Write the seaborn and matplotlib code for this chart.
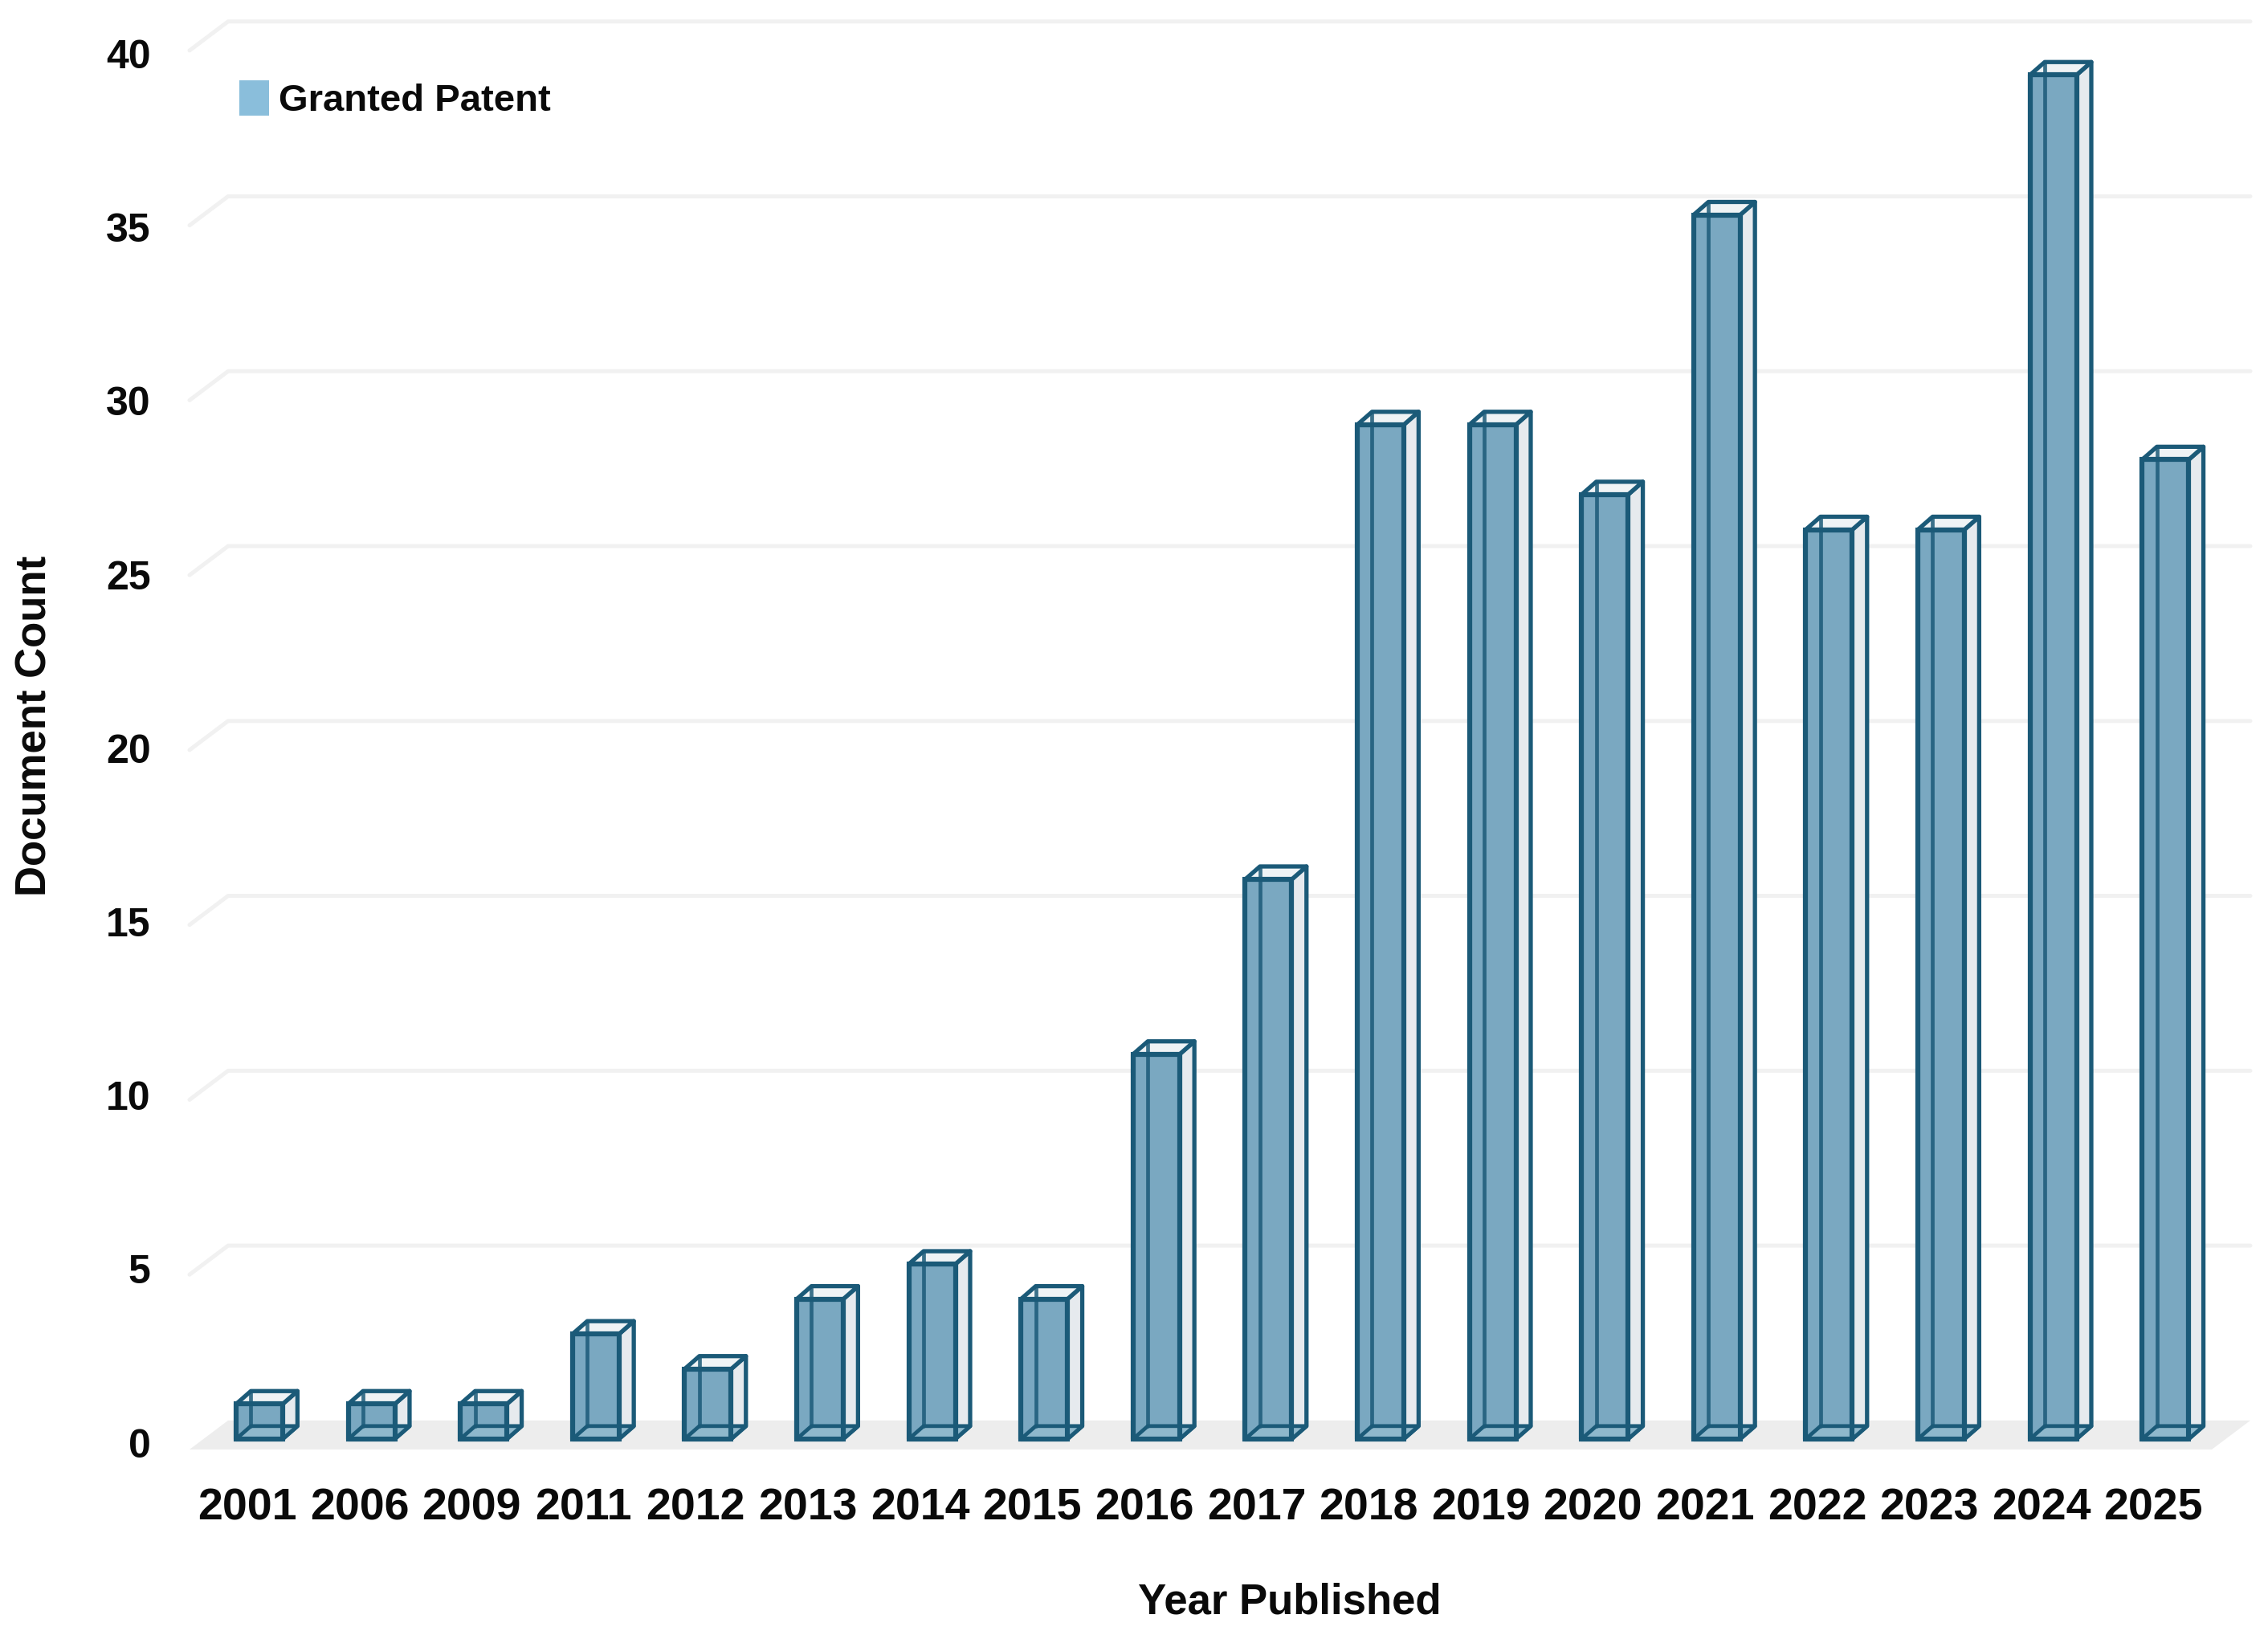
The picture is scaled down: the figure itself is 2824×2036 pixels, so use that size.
#!/usr/bin/env python
# -*- coding: utf-8 -*-
"""Granted patents per publication year, drawn as glass-like 3D columns."""
import matplotlib
matplotlib.use('Agg')
import matplotlib.pyplot as plt
from matplotlib.patches import Patch, Polygon
from matplotlib.transforms import ScaledTranslation
import seaborn as sns

years = ['2001', '2006', '2009', '2011', '2012', '2013', '2014', '2015', '2016',
         '2017', '2018', '2019', '2020', '2021', '2022', '2023', '2024', '2025']
counts = [1, 1, 1, 3, 2, 4, 5, 4, 11, 16, 29, 29, 27, 35, 26, 26, 39, 28]
y_ticks = [0, 5, 10, 15, 20, 25, 30, 35, 40]

FACE = '#7AA8C1'
BOTTOM = '#8FB8CC'
SIDE = '#E6EAEE'
TOP = '#EFF3F5'
EDGE = '#1B5A78'
GRID = '#F1F1F1'
FLOOR = '#EDEDED'
LEGEND = '#8ABEDB'
TEXT = '#0A0A0A'

# depth of the columns and of the floor, in data units
BAR_DX, BAR_DY = 0.132, 0.37
WALL_DY, FRONT_DY = 0.53, -0.30
X_LEFT, X_BACK, X_FRONT_R, X_RIGHT = -0.623, -0.279, 17.414, 17.758

sns.set_style('white')
plt.rcParams['font.family'] = ['Liberation Sans', 'DejaVu Sans']
plt.rcParams['font.weight'] = 'bold'
plt.rcParams['text.color'] = TEXT
plt.rcParams['axes.labelcolor'] = TEXT
plt.rcParams['xtick.color'] = TEXT
plt.rcParams['ytick.color'] = TEXT

fig = plt.figure(figsize=(28.24, 20.36), dpi=100)
ax = fig.add_axes([236 / 2824, 1 - 1805 / 2036, 2566 / 2824, 1780 / 2036])
ax.patch.set_alpha(0)

sns.barplot(x=years, y=counts, color=FACE, saturation=1, width=0.415,
            edgecolor=EDGE, linewidth=4.4, zorder=3, ax=ax)
bars = list(ax.patches)

ax.set_xlim(X_LEFT, X_RIGHT)
ax.set_ylim(FRONT_DY, 40 + WALL_DY + 0.04)

# floor and back wall
ax.add_patch(Polygon([(X_LEFT, FRONT_DY), (X_BACK, WALL_DY), (X_RIGHT, WALL_DY),
                      (X_FRONT_R, FRONT_DY)], closed=True, facecolor=FLOOR,
                     edgecolor='none', zorder=1))
for v in y_ticks[1:]:
    ax.plot([X_LEFT, X_BACK, X_RIGHT], [v + FRONT_DY, v + WALL_DY, v + WALL_DY],
            color=GRID, lw=3.6, zorder=1, clip_on=False)

# side, top and inner edges of every column
for bar in bars:
    x0, w, h = bar.get_x(), bar.get_width(), bar.get_height()
    x1 = x0 + w
    xb0, xb1, yb0, yb1 = x0 + BAR_DX, x1 + BAR_DX, BAR_DY, h + BAR_DY
    ax.add_patch(Polygon([(x1, 0), (xb1, yb0), (xb1, yb1), (x1, h)], closed=True,
                         facecolor=SIDE, edgecolor=EDGE, lw=3.8, zorder=2.5,
                         joinstyle='round'))
    ax.add_patch(Polygon([(x0, h), (xb0, yb1), (xb1, yb1), (x1, h)], closed=True,
                         facecolor=TOP, edgecolor=EDGE, lw=3.8, zorder=2.5,
                         joinstyle='round'))
    ax.add_patch(Polygon([(x0, 0), (xb0, yb0), (xb1, yb0), (x1, 0)], closed=True,
                         facecolor=BOTTOM, edgecolor=EDGE, lw=3.4, zorder=4,
                         joinstyle='round'))
    ax.plot([xb0, xb0], [yb0, yb1], color=EDGE, lw=3.4, alpha=0.85, zorder=4)
    ax.plot([x0, x1, x1, x0, x0], [0, 0, h, h, 0], color=EDGE, lw=4.4, zorder=5,
            solid_joinstyle='round')

ax.set_yticks([0.993 * v - 0.11 for v in y_ticks], [str(v) for v in y_ticks])
ax.tick_params(axis='y', length=0, pad=35, labelsize=36)
ax.tick_params(axis='x', length=0, pad=34, labelsize=40)
shift = ScaledTranslation(-15 / 100, 0, fig.dpi_scale_trans)
for label in ax.get_xticklabels():
    label.set_transform(label.get_transform() + shift)
sns.despine(ax=ax, left=True, bottom=True)

ax.set_xlabel('Year Published', fontsize=38, fontweight='bold')
ax.xaxis.set_label_coords(1606 / 2824, 1 - 1970 / 2036, transform=fig.transFigure)
ax.set_ylabel('Document Count', fontsize=38, fontweight='bold')
ax.yaxis.set_label_coords(69 / 2824, 1 - 904 / 2036, transform=fig.transFigure)

ax.legend(handles=[Patch(facecolor=LEGEND, edgecolor='none', label='Granted Patent')],
          loc='upper left', bbox_to_anchor=(298 / 2824, 1 - 100 / 2036),
          bbox_transform=fig.transFigure, frameon=False, fontsize=34,
          borderpad=0, borderaxespad=0, handlelength=0.78, handleheight=1.05,
          handletextpad=0.25)

fig.savefig('out.png', dpi=100)
